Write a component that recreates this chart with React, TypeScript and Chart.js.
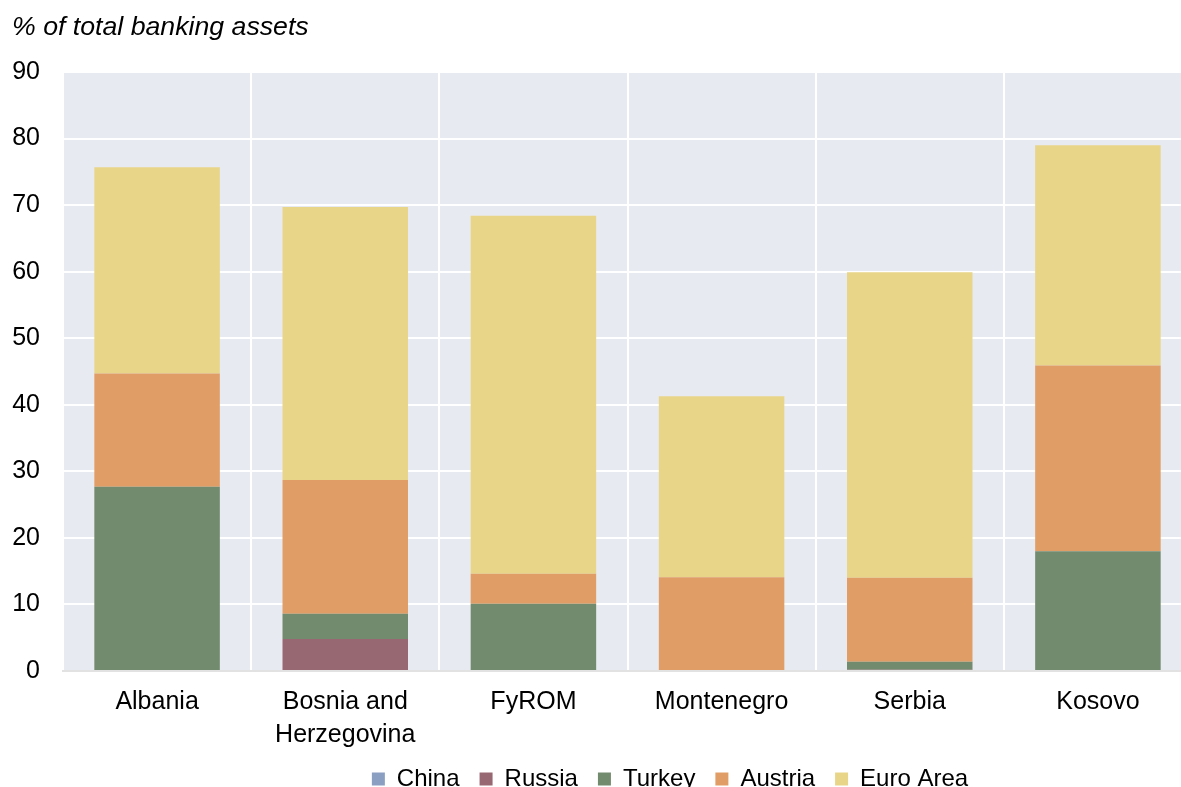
import React, { useEffect, useRef } from "react";
import { Chart, registerables } from "chart.js";

Chart.register(...registerables);

const categories: (string | string[])[] = [
  "Albania",
  ["Bosnia and", "Herzegovina"],
  "FyROM",
  "Montenegro",
  "Serbia",
  "Kosovo",
];

const china = [0, 0, 0, 0, 0, 0];
const russia = [0, 4.8, 0, 0, 0.2, 0];
const turkey = [27.7, 3.8, 10.1, 0, 1.2, 18.0];
const austria = [17.0, 20.1, 4.5, 14.1, 12.6, 27.9];
const euroArea = [31.0, 41.0, 53.8, 27.2, 45.9, 33.1];

const yTicks = [0, 10, 20, 30, 40, 50, 60, 70, 80, 90];

const titleText = "% of total banking assets";
const sourceText = "Source: IMF financial soundness indicators";

const FONT = "'Liberation Sans', Arial, sans-serif";

export default function App() {
  const ref = useRef<HTMLCanvasElement | null>(null);

  useEffect(() => {
    if (!ref.current) return;

    const bgPlugin = {
      id: "bgPlugin",
      beforeDraw(chart: any) {
        const { ctx, chartArea } = chart;
        ctx.save();
        ctx.fillStyle = "#e8eaf1";
        ctx.fillRect(chartArea.left, chartArea.top, chartArea.right - chartArea.left, chartArea.bottom - chartArea.top);
        ctx.restore();
      },
      afterLayout(chart: any) {
        const lg = chart.legend;
        if (lg) {
          const w = lg.right - lg.left;
          lg.left = 670 - w / 2;
          lg.right = 670 + w / 2;
        }
      },
      afterDraw(chart: any) {
        const { ctx } = chart;
        ctx.save();
        ctx.fillStyle = "#000";
        ctx.font = `italic 26.7px ${FONT}`;
        ctx.textBaseline = "middle";
        ctx.textAlign = "left";
        ctx.fillText(titleText, 12, 28);
        ctx.font = "24px 'Liberation Serif', 'Times New Roman', serif";
        ctx.textBaseline = "alphabetic";
        ctx.fillText(sourceText, 20, 803);
        ctx.restore();
      },
    };

    const mk = (label: string, data: number[], color: string) => ({
      label,
      data,
      backgroundColor: color,
      borderColor: color,
      borderWidth: 0,
      barPercentage: 0.667,
      categoryPercentage: 1,
    });

    const chart = new Chart(ref.current, {
      type: "bar",
      data: {
        labels: categories as any,
        datasets: [
          mk("China", china, "#8a9fc2"),
          mk("Russia", russia, "#986872"),
          mk("Turkey", turkey, "#728b6e"),
          mk("Austria", austria, "#e09e66"),
          mk("Euro Area", euroArea, "#e8d587"),
        ],
      },
      options: {
        responsive: false,
        animation: false,
        devicePixelRatio: 1,
        layout: { padding: { top: 72, left: 0, right: 8, bottom: 0 } },
        plugins: {
          title: { display: false },
          tooltip: { enabled: false },
          legend: {
            position: "bottom",
            align: "center",
            labels: {
              boxWidth: 13,
              boxHeight: 13,
              padding: 20,
              color: "#000",
              font: { family: FONT, size: 24 },
            },
          },
        },
        scales: {
          x: {
            stacked: true,
            grid: { color: "#ffffff", lineWidth: 2, drawTicks: false, offset: true },
            border: { display: true, color: "#e2e2e2", width: 2 },
            ticks: {
              color: "#000",
              padding: 15,
              font: { family: FONT, size: 25, lineHeight: 1.3 },
              maxRotation: 0,
              autoSkip: false,
            },
            afterFit(scale: any) {
              scale.height = 76;
            },
          },
          y: {
            stacked: true,
            min: 0,
            max: 90,
            grid: { color: "#ffffff", lineWidth: 2, drawTicks: false },
            border: { display: false },
            afterBuildTicks(scale: any) {
              scale.ticks = yTicks.map((v) => ({ value: v }));
            },
            ticks: {
              color: "#000",
              padding: 23,
              font: { family: FONT, size: 25 },
            },
            afterFit(scale: any) {
              scale.width = 63;
            },
          },
        },
      },
      plugins: [bgPlugin],
    });

    return () => chart.destroy();
  }, []);

  return (
    <div style={{ position: "absolute", left: 0, top: 0, width: 1181, height: 787, overflow: "hidden", background: "#fff" }}>
      <canvas ref={ref} width={1200} height={801} style={{ display: "block", width: 1200, height: 801 }} />
    </div>
  );
}
